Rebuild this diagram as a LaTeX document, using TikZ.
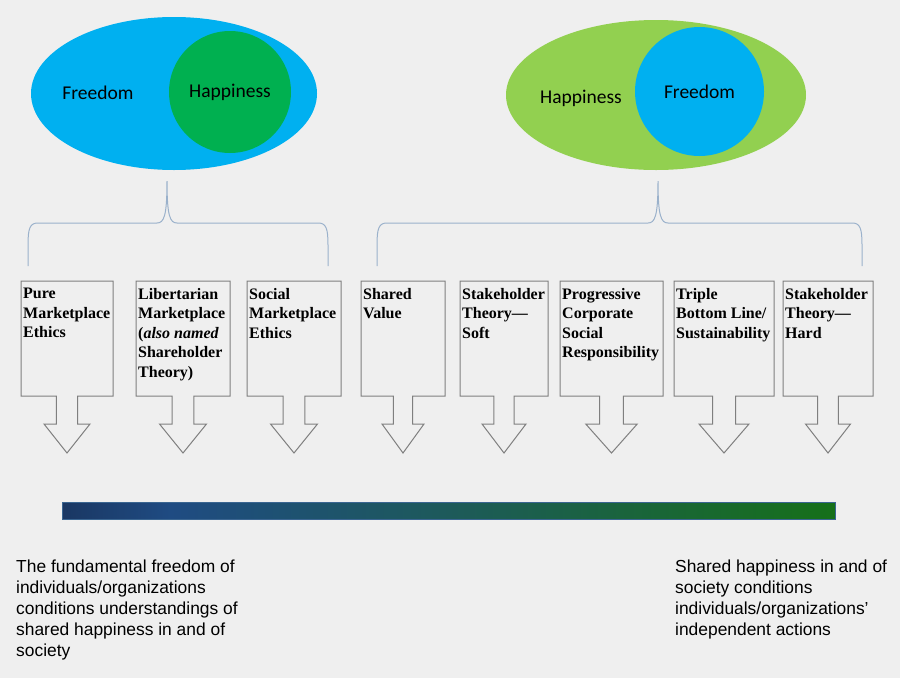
\documentclass[tikz,border=0pt]{standalone}
\usepackage{fontspec}
\usetikzlibrary{shapes.geometric}

\newfontfamily\ovalfont{Carlito}
\newfontfamily\boxfont{Liberation Serif}
\newfontfamily\notefont{Liberation Sans}

\definecolor{bggray}{HTML}{EFEFEF}
\definecolor{skyblue}{HTML}{00B0F0}
\definecolor{leafgreen}{HTML}{00B050}
\definecolor{limegreen}{HTML}{92D050}
\definecolor{bracecol}{HTML}{9AB1CB}
\definecolor{boxgray}{HTML}{7F7F7F}
\definecolor{barnavy}{HTML}{1A3763}
\definecolor{barblue}{HTML}{1F4B82}
\definecolor{barteal}{HTML}{1D5A5A}
\definecolor{bargreen}{HTML}{167019}
\definecolor{barline}{HTML}{3A6591}

\pgfdeclarehorizontalshading{barshade}{100bp}{color(0bp)=(barnavy); color(25bp)=(barnavy); color(32bp)=(barblue); color(50bp)=(barteal); color(75bp)=(bargreen); color(100bp)=(bargreen)}

\tikzset{
  oval/.style={ellipse, inner sep=0pt, font=\ovalfont\fontsize{19.5}{23}\selectfont},
  disc/.style={circle, inner sep=0pt, font=\ovalfont\fontsize{19.5}{23}\selectfont},
  ovaltext/.style={inner sep=0pt, font=\ovalfont\fontsize{19.5}{23}\selectfont},
  brace/.style={draw=bracecol, line width=1pt},
  boxline/.style={draw=boxgray, line width=1pt},
  boxtext/.style={anchor=north west, align=left, inner xsep=2pt, inner ysep=7pt,
    font=\boxfont\bfseries\fontsize{16}{19.5}\selectfont},
  note/.style={anchor=north west, align=left, inner sep=0pt,
    font=\notefont\fontsize{17.4}{21}\selectfont}
}

% box with a down arrow under it: name, left x, right x, text
\newcommand{\arrowcard}[4]{%
  \pgfmathsetmacro{\cardmid}{(#2+#3)/2}%
  \pgfmathsetmacro{\cardstem}{0.115*(#3-#2)}%
  \pgfmathsetmacro{\cardhead}{0.25*(#3-#2)}%
  \draw[boxline] (#2,281) -- (#3,281) -- (#3,396) -- (\cardmid+\cardstem,396)
    -- (\cardmid+\cardstem,424) -- (\cardmid+\cardhead,424) -- (\cardmid,453)
    -- (\cardmid-\cardhead,424) -- (\cardmid-\cardstem,424)
    -- (\cardmid-\cardstem,396) -- (#2,396) -- cycle;
  \node[boxtext] (#1) at (#2,281) {#4};}

\begin{document}
\begin{tikzpicture}[x=1pt,y=-1pt]
\fill[bggray] (0,0) rectangle (900,678);
\useasboundingbox (0,0) rectangle (900,678);

% left: happiness inside freedom
\node[oval, fill=skyblue, minimum width=286, minimum height=153] (freeL) at (174,93.5) {};
\node[disc, fill=leafgreen, minimum size=122] (happyL) at (230,92) {Happiness};
\node[ovaltext] (freeLtxt) at (98,93) {Freedom};

% right: freedom inside happiness
\node[oval, fill=limegreen, minimum width=300, minimum height=150] (happyR) at (656,95) {};
\node[disc, fill=skyblue, minimum size=129] (freeR) at (699.5,91.5) {Freedom};
\node[ovaltext] (happyRtxt) at (581,98) {Happiness};

% braces
\draw[brace] (28,266) -- (28,245) .. controls (28,228) and (30,223) .. (38,223)
  -- (157,223) .. controls (164,223) and (167,216) .. (167,181)
  .. controls (167,216) and (170,223) .. (177,223)
  -- (318,223) .. controls (326,223) and (328,228) .. (328,245) -- (328,266);
\draw[brace] (377,266) -- (377,245) .. controls (377,228) and (379,223) .. (387,223)
  -- (648,223) .. controls (655,223) and (658,216) .. (658,181)
  .. controls (658,216) and (661,223) .. (668,223)
  -- (852,223) .. controls (860,223) and (862,228) .. (862,245) -- (862,266);

% the eight positions
\arrowcard{pure}{21}{113}{Pure\\Marketplace\\Ethics}
\arrowcard{libert}{136}{230}{Libertarian\\Marketplace\\(\textit{also named}\\Shareholder\\Theory)}
\arrowcard{social}{247}{341}{Social\\Marketplace\\Ethics}
\arrowcard{shared}{361}{445}{Shared\\Value}
\arrowcard{stakesoft}{460}{548}{Stakeholder\\Theory—\\Soft}
\arrowcard{progcsr}{560}{663}{Progressive\\Corporate\\Social\\Responsibility}
\arrowcard{triple}{674}{774}{Triple\\Bottom Line/\\Sustainability}
\arrowcard{stakehard}{783}{873}{Stakeholder\\Theory—\\Hard}

% spectrum bar
\node[shading=barshade, draw=barline, line width=0.8pt, inner sep=0pt,
  minimum width=773, minimum height=17] (spectrum) at (448.5,510.5) {};

% end notes
\node[note] (leftnote) at (16,560) {The fundamental freedom of\\individuals/organizations\\conditions understandings of\\shared happiness in and of\\society};
\node[note] (rightnote) at (675,560) {Shared happiness in and of\\society conditions\\individuals/organizations’\\independent actions};
\end{tikzpicture}
\end{document}
